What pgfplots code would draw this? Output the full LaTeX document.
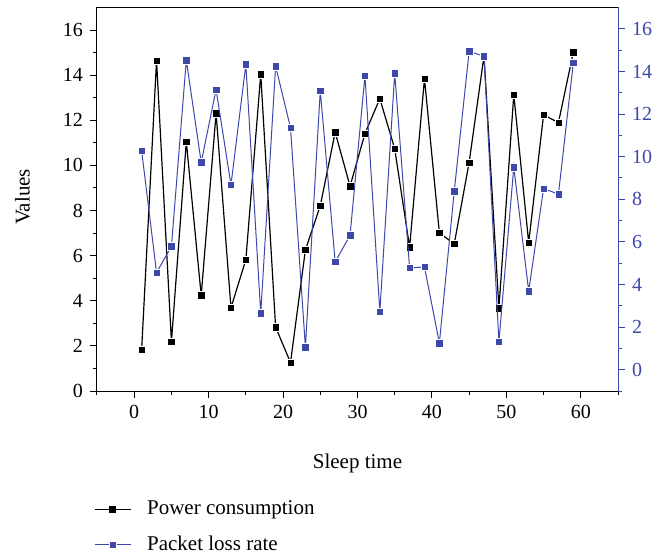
\documentclass[border=0pt]{standalone}
\usepackage{pgfplots}
\pgfplotsset{compat=1.18}
\usepackage{fontspec}
\setmainfont{Liberation Serif}
\definecolor{pblue}{RGB}{62,71,170}

\pgfplotstableread{
x y
1 1.84
3 14.65
5 2.19
7 11.05
9 4.24
11 12.31
13 3.69
15 5.82
17 14.04
19 2.83
21 1.26
23 6.25
25 8.21
27 11.47
29 9.08
31 11.41
33 12.96
35 10.74
37 6.37
39 13.85
41 7.01
43 6.52
45 10.13
47 14.86
49 3.67
51 13.14
53 6.58
55 12.24
57 11.90
59 15.02
}\powertable

\pgfplotstableread{
x y
1 10.27
3 4.56
5 5.79
7 14.53
9 9.73
11 13.15
13 8.67
15 14.33
17 2.64
19 14.25
21 11.35
23 1.06
25 13.10
27 5.06
29 6.31
31 13.80
33 2.73
35 13.91
37 4.78
39 4.82
41 1.25
43 8.38
45 14.94
47 14.71
49 1.30
51 9.51
53 3.69
55 8.50
57 8.24
59 14.41
}\losstable

\begin{document}
\fontsize{21bp}{25bp}\selectfont
\begin{tikzpicture}
\useasboundingbox (-97bp,-163bp) rectangle (559bp,391bp);
\pgfplotsset{every axis/.append style={
  width=521bp, height=383.5bp, scale only axis,
  xmin=-5, xmax=65,
  /pgf/number format/assume math mode=true,
  tick align=outside, major tick length=7bp, minor tick length=4bp,
  font=\fontsize{21bp}{25bp}\selectfont,
  tick label style={font=\fontsize{20bp}{24bp}\selectfont},
  every tick/.style={line width=1bp},
  axis line style={line width=1bp},
}}
\begin{axis}[
  ymin=0, ymax=17,
  xtick={0,10,...,60}, minor xtick={-5,5,...,65},
  ytick={0,2,...,16}, minor ytick={1,3,...,15},
  xtick pos=bottom, ytick pos=left,
  xlabel={Sleep time}, ylabel={Values},
  xlabel style={at={(axis description cs:0.5,-0.19)}, anchor=center},
  ylabel style={at={(axis description cs:-0.143,0.506)}, anchor=center},
]
\addplot[black, line width=1.2bp, mark=square*, mark size=3.7bp,
  mark options={fill=black, draw=white, line width=0.5bp}] table[x=x,y=y] {\powertable};
\end{axis}
\begin{axis}[
  ymin=-1, ymax=17,
  hide x axis,
  axis y line*=right,
  y axis line style={-, draw=pblue, line width=1bp},
  ytick={0,2,...,16}, minor ytick={-1,1,...,15},
  ytick pos=right,
  every y tick/.style={pblue, line width=1bp},
  yticklabel style={text=pblue},
  legend style={draw=none, fill=none, at={(axis description cs:-0.012,-0.276)}, anchor=north west,
    row sep=14bp, font=\fontsize{21bp}{25bp}\selectfont,
    /tikz/every odd column/.append style={column sep=14bp}},
  legend cell align=left,
  legend image code/.code={\draw[mark repeat=2,mark phase=2,#1] plot coordinates {(0bp,0bp) (18bp,0bp) (36bp,0bp)};},
]
\addlegendimage{black, line width=1.2bp, mark=square*, mark size=3bp, mark options={fill=black}}
\addlegendentry{Power consumption}
\addplot[pblue, line width=1bp, mark=square*, mark size=3.7bp,
  mark options={fill=pblue, draw=white, line width=0.5bp}] table[x=x,y=y] {\losstable};
\addlegendentry{Packet loss rate}
\end{axis}
\end{tikzpicture}
\end{document}
